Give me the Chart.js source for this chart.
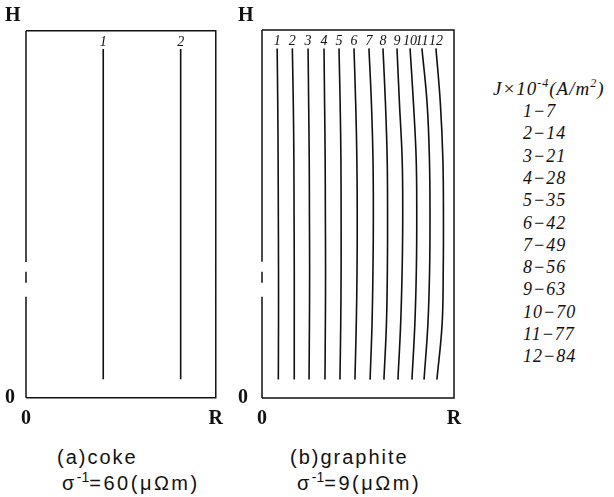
<!DOCTYPE html>
<html><head><meta charset="utf-8">
<script src="https://cdn.jsdelivr.net/npm/chart.js@4/dist/chart.umd.min.js"></script>
<style>
html,body{margin:0;padding:0;background:#fff;width:614px;height:497px;overflow:hidden;}
#wrap{position:relative;width:614px;height:497px;}
canvas{position:absolute;top:0;}
#ca{left:0;} #cb{left:232px;}
.cap{position:absolute;font-family:"Liberation Sans",Arial,sans-serif;font-size:20px;line-height:20px;letter-spacing:2px;color:#111;white-space:nowrap;}
.cap.s{letter-spacing:2.5px;}
.cap sup{font-size:14px;vertical-align:8px;line-height:0;letter-spacing:0;}
.leg{position:absolute;font-family:"Liberation Serif","Times New Roman",serif;font-style:italic;color:#111;white-space:nowrap;}
.leg sup{font-size:12px;vertical-align:8px;line-height:0;}
</style></head>
<body><div id="wrap">
<canvas id="ca" width="232" height="440"></canvas>
<canvas id="cb" width="240" height="440"></canvas>
<div class="cap" style="left:57px;top:447px;">(a)coke</div>
<div class="cap s" style="left:62px;top:473px;">σ<sup>-1</sup>=60(μΩm)</div>
<div class="cap" style="left:290px;top:447px;">(b)graphite</div>
<div class="cap s" style="left:297px;top:473px;">σ<sup>-1</sup>=9(μΩm)</div>
<div id="legend"></div>
</div>
<script>
// ---- data (x in units of R, y in units of H) ----
const yLevels = [0.05, 0.2, 0.35, 0.5, 0.65, 0.8, 0.95];

const cokeLineLabels = ['1', '2'];
const coke1 = [0.407, 0.407, 0.407, 0.407, 0.407, 0.407, 0.407];
const coke2 = [0.815, 0.815, 0.815, 0.815, 0.815, 0.815, 0.815];

const graphiteLineLabels = ['1','2','3','4','5','6','7','8','9','10','11','12'];
const graphite1  = [0.085, 0.086, 0.086, 0.085, 0.084, 0.082, 0.079];
const graphite2  = [0.168, 0.168, 0.168, 0.167, 0.166, 0.163, 0.158];
const graphite3  = [0.245, 0.247, 0.248, 0.247, 0.246, 0.243, 0.240];
const graphite4  = [0.328, 0.330, 0.331, 0.330, 0.329, 0.326, 0.323];
const graphite5  = [0.406, 0.410, 0.412, 0.412, 0.411, 0.407, 0.401];
const graphite6  = [0.484, 0.491, 0.495, 0.496, 0.494, 0.488, 0.479];
const graphite7  = [0.563, 0.573, 0.578, 0.580, 0.578, 0.570, 0.557];
const graphite8  = [0.635, 0.648, 0.653, 0.654, 0.652, 0.643, 0.630];
const graphite9  = [0.708, 0.722, 0.730, 0.733, 0.730, 0.716, 0.703];
const graphite10 = [0.781, 0.796, 0.804, 0.806, 0.803, 0.789, 0.771];
const graphite11 = [0.844, 0.864, 0.873, 0.875, 0.872, 0.860, 0.833];
const graphite12 = [0.911, 0.938, 0.944, 0.945, 0.942, 0.929, 0.906];

const xTickValues = [0, 1];
const xTickLabels = ['0', 'R'];
const yTickLabels = ['0', 'H'];

const legendCurves = ['1','2','3','4','5','6','7','8','9','10','11','12'];
const legendJ = ['7','14','21','28','35','42','49','56','63','70','77','84'];

// ---- drawing ----
const INK = '#111';
const leftBorderSegments = [[0, 0.275], [0.313, 0.343], [0.37, 1]];

const framePlugin = {
  id: 'frame',
  afterDatasetsDraw(chart) {
    const { ctx, scales: { x, y } } = chart;
    const x0 = x.getPixelForValue(0), x1 = x.getPixelForValue(1);
    const y0 = y.getPixelForValue(0), y1 = y.getPixelForValue(1);
    ctx.save();
    ctx.strokeStyle = INK;
    ctx.lineWidth = 1.5;
    ctx.beginPath();
    ctx.moveTo(x0, y1); ctx.lineTo(x1, y1); ctx.lineTo(x1, y0); ctx.lineTo(x0, y0);
    leftBorderSegments.forEach(([a, b]) => {
      ctx.moveTo(x0, y.getPixelForValue(a));
      ctx.lineTo(x0, y.getPixelForValue(b));
    });
    ctx.stroke();
    // curve numbers above each line
    ctx.fillStyle = INK;
    ctx.font = 'italic 14px "Liberation Serif", "Times New Roman", serif';
    ctx.textAlign = 'center';
    ctx.textBaseline = 'alphabetic';
    chart.data.datasets.forEach((ds, i) => {
      const meta = chart.getDatasetMeta(i);
      const top = meta.data[meta.data.length - 1];
      ctx.fillText(ds.label, top.x, top.y - 3);
    });
    ctx.restore();
  }
};

function makeChart(id, series, labels, yMax, yAxisWidth, pad) {
  const datasets = series.map((arr, i) => ({
    label: labels[i],
    data: yLevels.map((yv, j) => ({ x: arr[j], y: yv })),
    showLine: true,
    borderColor: INK,
    borderWidth: 1.6,
    pointRadius: 0,
    tension: 0.4,
    fill: false
  }));
  const tickFont = { family: '"Liberation Serif", "Times New Roman", serif', size: 20, weight: 'bold' };
  return new Chart(document.getElementById(id), {
    type: 'scatter',
    data: { datasets },
    options: {
      responsive: false,
      animation: false,
      devicePixelRatio: 1,
      layout: { padding: pad },
      plugins: { legend: { display: false }, tooltip: { enabled: false }, title: { display: false } },
      scales: {
        x: {
          type: 'linear', min: 0, max: 1,
          afterBuildTicks: s => { s.ticks = xTickValues.map(v => ({ value: v })); },
          afterFit: s => { s.height = 32; },
          ticks: { callback: (v, i) => xTickLabels[i], font: tickFont, color: INK, padding: 9, maxRotation: 0, autoSkip: false },
          grid: { display: false, drawTicks: false },
          border: { display: false }
        },
        y: {
          type: 'linear', min: 0, max: yMax,
          afterBuildTicks: s => { s.ticks = [{ value: 0 }, { value: yMax }]; },
          afterFit: s => { s.width = yAxisWidth; },
          ticks: { callback: (v, i) => yTickLabels[i], font: tickFont, color: INK, padding: 3, autoSkip: false, crossAlign: 'far' },
          grid: { display: false, drawTicks: false },
          border: { display: false }
        }
      }
    },
    plugins: [framePlugin]
  });
}

makeChart('ca', [coke1, coke2], cokeLineLabels, 1.04, 21,
  { top: 16, right: 12.5, bottom: 10.3, left: 5 });
makeChart('cb', [graphite1, graphite2, graphite3, graphite4, graphite5, graphite6,
  graphite7, graphite8, graphite9, graphite10, graphite11, graphite12],
  graphiteLineLabels, 1.038, 24, { top: 16, right: 18, bottom: 10, left: 6 });

// ---- legend (text) ----
const leg = document.getElementById('legend');
const head = document.createElement('div');
head.className = 'leg';
head.style.cssText = 'left:493px;top:79px;font-size:19px;line-height:20px;letter-spacing:1px;';
head.innerHTML = 'J×10<sup>-4</sup>(A/m<sup>2</sup>)';
leg.appendChild(head);
legendCurves.forEach((c, i) => {
  const d = document.createElement('div');
  d.className = 'leg';
  d.style.cssText = 'left:523px;top:' + (101 + i * 22.3) + 'px;font-size:18px;line-height:20px;letter-spacing:1px;';
  d.textContent = c + '\u2212' + legendJ[i];
  leg.appendChild(d);
});
</script>
</body></html>
